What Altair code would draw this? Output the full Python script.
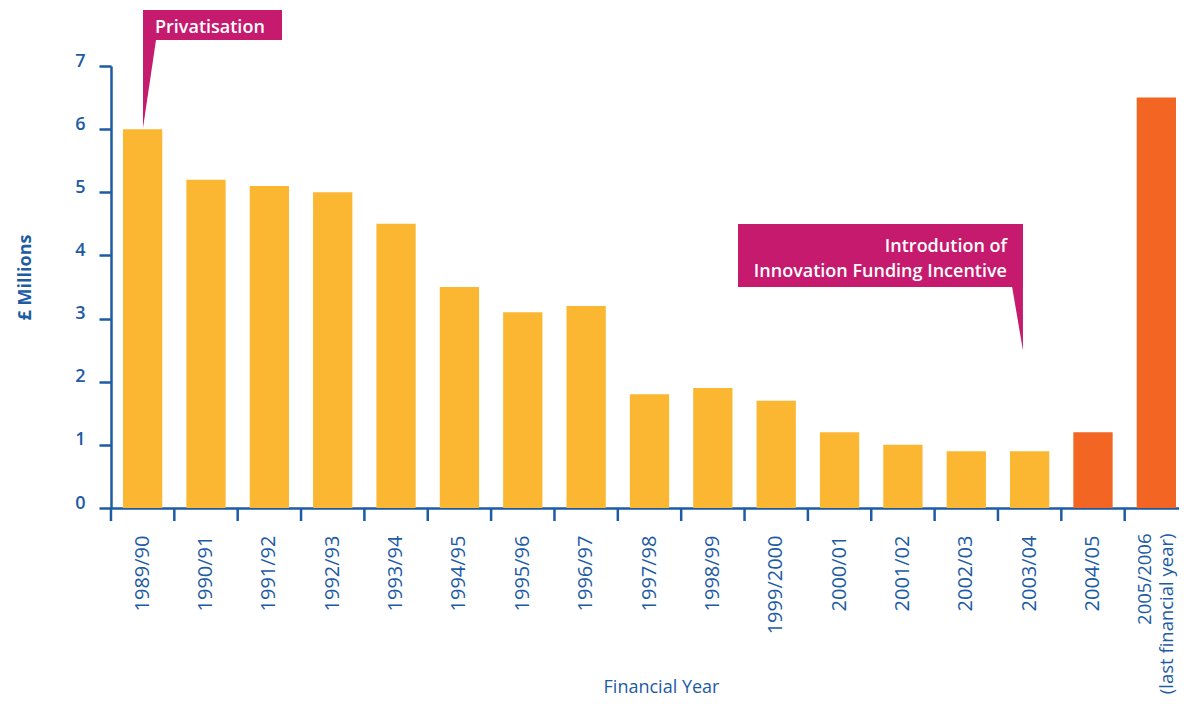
import altair as alt
import pandas as pd

# ---- data ----
years = ["1989/90", "1990/91", "1991/92", "1992/93", "1993/94", "1994/95",
         "1995/96", "1996/97", "1997/98", "1998/99", "1999/2000", "2000/01",
         "2001/02", "2002/03", "2003/04", "2004/05", "2005/2006"]
spend = [6.0, 5.2, 5.1, 5.0, 4.5, 3.5, 3.1, 3.2, 1.8, 1.9, 1.7, 1.2,
         1.0, 0.9, 0.9, 1.2, 6.5]
period = ["Before IFI"] * 15 + ["IFI"] * 2
y_ticks = [0, 1, 2, 3, 4, 5, 6, 7]
last_label = ["2005/2006", "(last financial year)"]
callout1 = "Privatisation"
callout2 = ["Introdution of", "Innovation Funding Incentive"]

BLUE = "#1d5ba4"
YELLOW = "#fbb732"
ORANGE = "#f26522"
MAGENTA = "#c51a6e"
FONT = "Open Sans"

df = pd.DataFrame({"year": years, "spend": spend, "period": period})

W, H = 1068, 442
P_IN = 0.38
P_OUT = 0.1184
STEP = W / (len(years) - P_IN + 2 * P_OUT)
IS_LAST = "datum.value == '2005/2006'"

x_enc = alt.X(
    "year:N", sort=years,
    scale=alt.Scale(paddingInner=P_IN, paddingOuter=P_OUT, align=0.8),
    axis=alt.Axis(
        title="Financial Year", labelAngle=-90, ticks=False, tickSize=0,
        labelPadding={"condition": {"test": IS_LAST, "value": 25}, "value": 27},
        labelFontSize={"condition": {"test": IS_LAST, "value": 18.5}, "value": 20},
        labelColor=BLUE, labelFont=FONT,
        labelLineHeight=22,
        labelOffset={"condition": {"test": IS_LAST, "value": -11}, "value": 0},
        labelExpr="datum.label == '2005/2006' ? ['" + last_label[0] + "', '" + last_label[1] + "'] : datum.label",
        domainColor=BLUE, domainWidth=2.5,
        titleFont=FONT, titleFontSize=18, titleFontWeight="normal", titleColor=BLUE,
        titleX=550, titleY=184, titleBaseline="alphabetic", titleAlign="center",
    ),
)

bars = alt.Chart(df).mark_bar(strokeWidth=0).encode(
    x=x_enc,
    y=alt.Y(
        "spend:Q",
        scale=alt.Scale(domain=[0, 7], nice=False),
        axis=alt.Axis(
            title="£ Millions", values=y_ticks, grid=False, tickSize=12,
            tickWidth=2.5, tickColor=BLUE, domainColor=BLUE, domainWidth=2.5,
            labelFont=FONT, labelFontSize=18, labelFontWeight=600,
            labelColor=BLUE, labelPadding=14, labelBaseline="alphabetic",
            titleFont=FONT, titleFontSize=18, titleFontWeight="bold",
            titleColor=BLUE, titleAngle=270, titleX=-86, titleY=211,
            titleBaseline="middle", titleAlign="center",
        ),
    ),
    color=alt.Color("period:N", scale=alt.Scale(domain=["Before IFI", "IFI"],
                                                range=[YELLOW, ORANGE]),
                    legend=None),
)

# x-axis ticks at band boundaries (middle of the gap before each bar)
ticks = alt.Chart(df).mark_rule(
    color=BLUE, strokeWidth=2.5, xOffset=-(P_IN / 2) * STEP).encode(
    x=alt.X("year:N", sort=years, bandPosition=0),
    y=alt.value(H),
    y2=alt.value(H + 13),
)

one = pd.DataFrame({"a": [0]})

box1 = alt.Chart(one).mark_rect(color=MAGENTA).encode(
    x=alt.value(32), x2=alt.value(171), y=alt.value(-56), y2=alt.value(-26))
ptr1 = alt.Chart(one).mark_point(
    shape="M-0.148,-1L0.148,-1L-0.148,1Z", filled=True, color=MAGENTA,
    opacity=1, size=88 * 88, strokeWidth=0).encode(
    x=alt.value(38.5), y=alt.value(18))
txt1 = alt.Chart(one).mark_text(
    text=callout1, color="white", font=FONT, fontSize=18, fontWeight=600,
    align="left", baseline="alphabetic").encode(
    x=alt.value(44), y=alt.value(-33))

box2 = alt.Chart(one).mark_rect(color=MAGENTA).encode(
    x=alt.value(627), x2=alt.value(912), y=alt.value(158), y2=alt.value(221))
ptr2 = alt.Chart(one).mark_point(
    shape="M-0.17,-1L0.17,-1L0.17,1Z", filled=True, color=MAGENTA,
    opacity=1, size=64 * 64, strokeWidth=0).encode(
    x=alt.value(906.5), y=alt.value(252.5))
txt2 = alt.Chart(one).mark_text(
    text=callout2, color="white", font=FONT, fontSize=18, fontWeight=600,
    align="right", baseline="alphabetic", lineHeight=25).encode(
    x=alt.value(896), y=alt.value(186))

chart = alt.layer(bars, ticks, box1, ptr1, txt1, box2, ptr2, txt2).properties(
    width=W, height=H,
    background="white",
    autosize=alt.AutoSizeParams(type="none"),
    padding={"left": 103, "top": 58, "right": 0, "bottom": 188},
).configure_view(stroke=None)

chart.save("out.html", embed_options={"renderer": "svg", "actions": False})
